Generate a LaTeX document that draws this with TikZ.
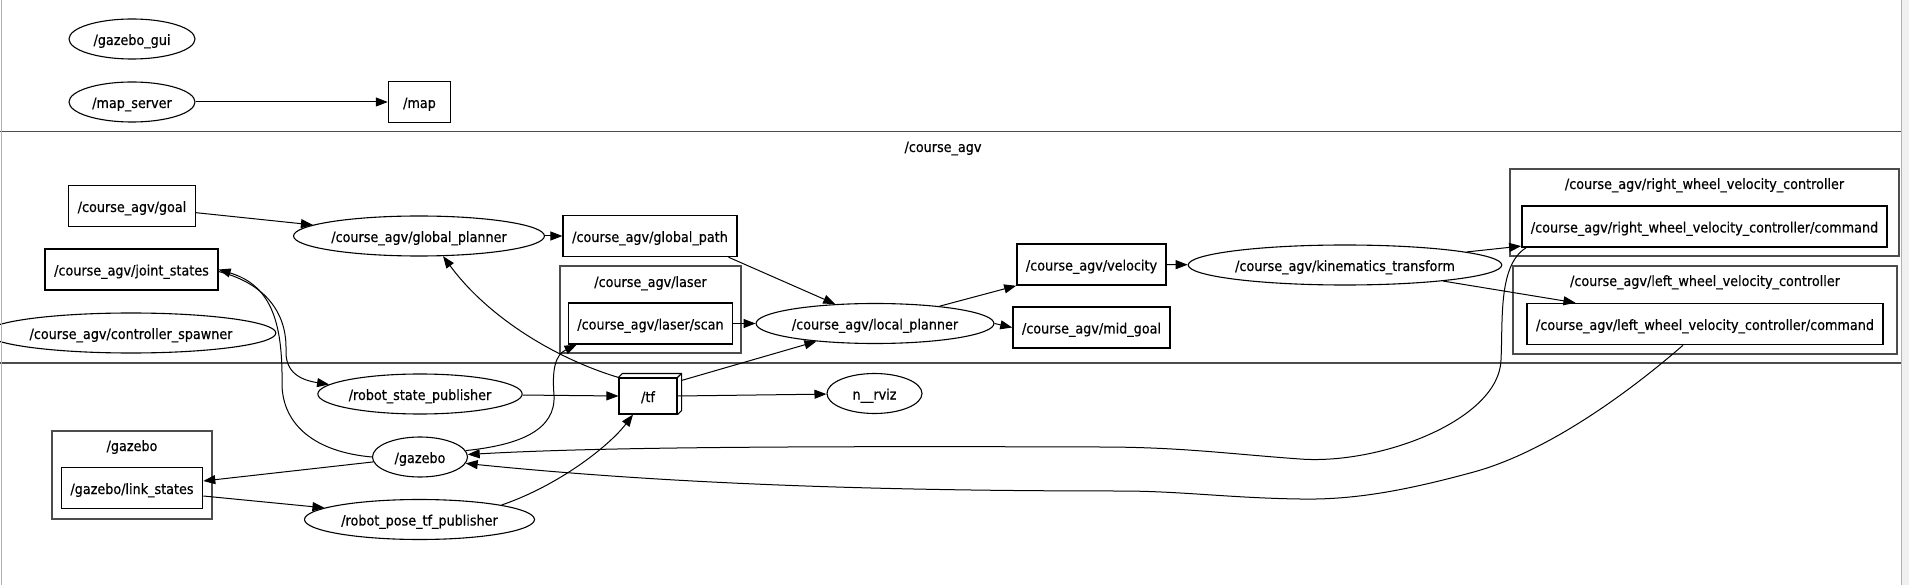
\documentclass[tikz,border=0pt]{standalone}
\usepackage{fontspec}
\setmainfont[FakeStretch=0.9,FakeBold=0.5]{DejaVu Sans}
\usetikzlibrary{arrows.meta,shapes.geometric}

\begin{document}
\begin{tikzpicture}[x=1pt,y=-1pt,
    font=\fontsize{14.2}{17}\selectfont,
    every node/.style={text height=15pt,text depth=3pt},
    topic/.style={draw,rectangle,line width=1.5pt,inner xsep=9pt,minimum height=41pt},
    rosnode/.style={draw,ellipse,line width=1.1pt,inner sep=1pt,minimum height=40pt,minimum width=95pt},
    tfbox/.style={draw,rectangle,line width=1.1pt,minimum width=58pt,minimum height=36pt},
    cluster/.style={draw=black!70,line width=1.3pt},
    edge/.style={line width=1pt,-{Triangle[length=12pt,width=9pt]}}]
  \useasboundingbox (0,0) rectangle (1909,585);
  \clip (0,0) rectangle (1909,585);

  % clusters
  \draw[cluster] (-10,131.5) rectangle (1915,363);
  \node (agvlbl) at (943,146) {/course\_agv};
  \draw[cluster] (560,266) rectangle (741,353);
  \node (laserlbl) at (650.5,281) {/course\_agv/laser};
  \draw[cluster] (1510,169) rectangle (1899,256);
  \node (rwheellbl) at (1704.5,183) {/course\_agv/right\_wheel\_velocity\_controller};
  \draw[cluster] (1513,266) rectangle (1897,354);
  \node (lwheellbl) at (1705,280) {/course\_agv/left\_wheel\_velocity\_controller};
  \draw[cluster] (52,431) rectangle (212,519);
  \node (gazebolbl) at (132,445) {/gazebo};

  % nodes and topics
  \node[rosnode,minimum width=126pt] (gzgui) at (132,39) {/gazebo\_gui};
  \node[rosnode,minimum width=126pt] (mapsrv) at (132,102) {/map\_server};
  \node[topic,minimum width=62pt] (map) at (419.5,102) {/map};

  \node[topic] (goal) at (132,206) {/course\_agv/goal};
  \node[rosnode] (gplan) at (419,236) {/course\_agv/global\_planner};
  \node[topic] (gpath) at (650,236) {/course\_agv/global\_path};
  \node[topic] (jstates) at (131.5,269.5) {/course\_agv/joint\_states};
  \node[rosnode] (spawner) at (131,333) {/course\_agv/controller\_spawner};
  \node[topic] (scan) at (650.5,323.5) {/course\_agv/laser/scan};
  \node[rosnode] (lplan) at (875,323.5) {/course\_agv/local\_planner};
  \node[topic] (vel) at (1091.5,264.5) {/course\_agv/velocity};
  \node[topic] (midgoal) at (1091.5,327.5) {/course\_agv/mid\_goal};
  \node[rosnode] (kin) at (1345,265) {/course\_agv/kinematics\_transform};
  \node[topic] (rcmd) at (1704.5,226.5) {/course\_agv/right\_wheel\_velocity\_controller/command};
  \node[topic] (lcmd) at (1705,324) {/course\_agv/left\_wheel\_velocity\_controller/command};

  \node[rosnode] (rsp) at (420,394) {/robot\_state\_publisher};
  \node[tfbox] (tf) at (648,396) {/tf};
  \draw[line width=1.1pt] (tf.north west) -- ++(4,-4) -| ([xshift=4pt,yshift=4pt]tf.south east) -- (tf.south east);
  \draw[line width=1.1pt] (tf.north east) -- ++(4,-4);
  \node[rosnode] (rviz) at (874.5,393.5) {n\_\_rviz};
  \node[topic] (links) at (132,488) {/gazebo/link\_states};
  \node[rosnode] (gz) at (420,457) {/gazebo};
  \node[rosnode,minimum width=230pt] (rptp) at (419.5,519.5) {/robot\_pose\_tf\_publisher};

  % connectors
  \draw[edge] (mapsrv) -- (map);
  \draw[edge] (goal) -- (gplan);
  \draw[edge] (gplan) -- (gpath);
  \draw[edge] ([xshift=-9pt]gpath.south east) -- (lplan.154);
  \draw[edge] (scan) -- (lplan);
  \draw[edge] (lplan.15) -- (vel.south west);
  \draw[edge] (lplan.east) -- (midgoal.west);
  \draw[edge] (vel) -- (kin);
  \draw[edge] (kin) -- (rcmd);
  \draw[edge] (kin) -- (lcmd);
  \draw[edge] (rsp) -- (tf.west);
  \draw[edge] (tf.east) -- (rviz);
  \draw[edge] (tf.north west) .. controls (560,360) and (490,320) .. (gplan.-40);
  \draw[edge] ([xshift=4pt,yshift=-3pt]tf.north east) -- (lplan.-163);
  \draw[edge] (rptp.10) .. controls (560,485) and (610,445) .. ([xshift=-15pt]tf.south);
  \draw[edge] (gz.west) .. controls (315,452) and (283,425) .. (282,385)
    .. controls (283,320) and (270,285) .. (jstates.east);
  \draw[edge] ([yshift=-2pt]jstates.east) .. controls (272,285) and (287,320) .. (286,350)
    .. controls (285,372) and (300,380) .. (rsp.174);
  \draw[edge] (gz.8) .. controls (520,445) and (556,430) .. (554,395)
    .. controls (552,370) and (555,355) .. ([xshift=9pt]scan.south west);
  \draw[edge] (gz.186) -- ([yshift=7pt]links.east);
  \draw[edge] ([yshift=-8pt]links.east) -- (rptp.173);
  \draw[edge] ([xshift=5pt]rcmd.south west) .. controls (1498,265) and (1503,320) .. (1501,360)
    .. controls (1499,420) and (1380,465) .. (1300,459)
    .. controls (1230,454) and (1180,447) .. (1100,447)
    .. controls (800,446) and (600,447) .. (gz.3);
  \draw[edge] ([xshift=-22pt]lcmd.south) .. controls (1620,400) and (1540,455) .. (1470,473)
    .. controls (1400,492) and (1350,500) .. (1300,499)
    .. controls (1230,498) and (1180,491) .. (1120,491)
    .. controls (850,491) and (650,482) .. (gz.-8);

  % frame
  \draw[gray!60] (1,0) -- (1,585);
  \fill[gray!12] (1901,0) rectangle (1909,585);
  \draw[gray!60] (1901,0) -- (1901,585);
\end{tikzpicture}
\end{document}
